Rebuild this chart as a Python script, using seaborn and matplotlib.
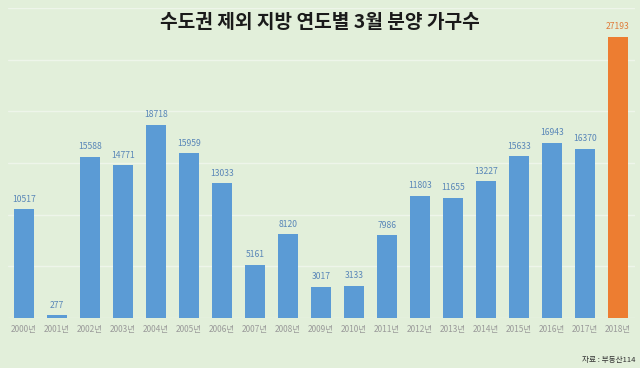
import matplotlib
matplotlib.use("Agg")
import matplotlib.pyplot as plt
import seaborn as sns
import pandas as pd

# 연도별 3월 분양 가구수 (수도권 제외 지방)
years = [f"{y}년" for y in range(2000, 2019)]
values = [10517, 277, 15588, 14771, 18718, 15959, 13033, 5161, 8120, 3017,
          3133, 7986, 11803, 11655, 13227, 15633, 16943, 16370, 27193]
highlight = ["기타"] * 18 + ["2018"]

bg = "#e2efda"
blue = "#5b9bd5"
orange = "#ed7d31"

df = pd.DataFrame({"year": years, "value": values, "group": highlight})

sns.set_style("white")
plt.rcParams["font.family"] = ["Noto Sans CJK KR", "DejaVu Sans"]

fig = plt.figure(figsize=(6.4, 3.68), dpi=100, facecolor=bg)
ax = fig.add_axes([7.5 / 640, 50 / 368, 627 / 640, 310 / 368])
ax.set_facecolor(bg)

sns.barplot(data=df, x="year", y="value", hue="group",
            palette={"기타": blue, "2018": orange}, dodge=False,
            width=0.6, saturation=1, linewidth=0, edgecolor="none",
            legend=False, ax=ax)

ax.set_ylim(0, 30000)
ax.set_xlim(-0.5, 18.5)
ax.set_yticks(range(0, 30001, 5000))
ax.yaxis.grid(True, color="#eef5ea", linewidth=1)
ax.set_axisbelow(True)
ax.set_yticklabels([])
ax.tick_params(axis="y", length=0)
ax.tick_params(axis="x", length=0, labelsize=6, labelcolor="#9a9a9a", pad=5)
for s in ax.spines.values():
    s.set_visible(False)
ax.set_xlabel("")
ax.set_ylabel("")

# 막대 위 값 표시
for cont in ax.containers:
    for bar in cont:
        h = bar.get_height()
        if pd.isna(h):
            continue
        c = "#e07b39" if bar.get_facecolor()[0] > 0.8 else "#5a87b8"
        ax.annotate(f"{int(round(h))}", (bar.get_x() + bar.get_width() / 2, h),
                    xytext=(0, 4), textcoords="offset points",
                    ha="center", va="bottom", fontsize=6.2, color=c)

fig.text(0.5, 1 - 22 / 368, "수도권 제외 지방 연도별 3월 분양 가구수",
         ha="center", va="center", fontsize=13.8, fontweight="bold", color="#1a1a1a")
fig.text(636 / 640, 1 - 360 / 368, "자료 : 부동산114", ha="right", va="center",
         fontsize=5.5, color="#333333")

fig.savefig("out.png", dpi=100, facecolor=bg)
